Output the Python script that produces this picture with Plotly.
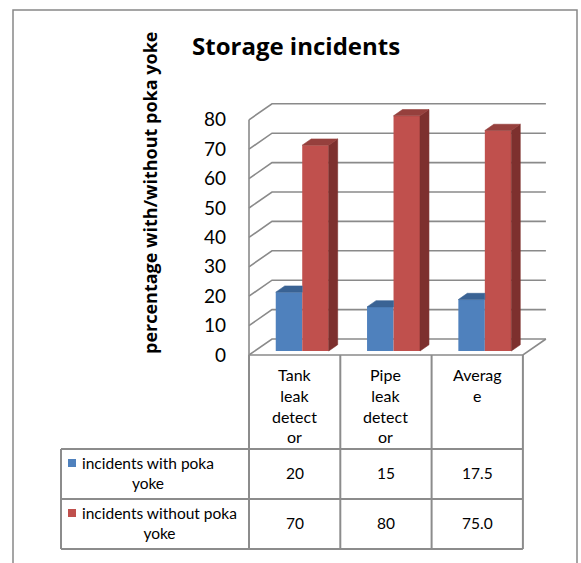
import plotly.graph_objects as go

# ---- data ----
categories = ["Tank leak detector", "Pipe leak detector", "Average"]
category_labels = ["Tank<br>leak<br>detect<br>or", "Pipe<br>leak<br>detect<br>or", "Averag<br>e"]
series_names = ["incidents with poka yoke", "incidents without poka yoke"]
with_poka_yoke = [20, 15, 17.5]
without_poka_yoke = [70, 80, 75.0]
value_decimals = [0, 0, 1]
y_ticks = [0, 10, 20, 30, 40, 50, 60, 70, 80]

# ---- styling ----
FONT = "Lato"
TITLE_FONT = "Open Sans"
BLUE, BLUE_TOP = "#4F81BD", "#3A6394"
RED, RED_TOP, RED_SIDE = "#C0504D", "#96403D", "#7D302E"
GRID = "#8a8a8a"
TABLE = "#8c8c8c"
TXT = "#000000"

# ---- pixel frame of the chart ----
W, H = 581, 563
L, R, T, B = 245, 555, 23, 363          # plot area (px)
X0, CW = 249, 91.3                      # front-left floor corner, category width (px)
Y0, PV = 355, 2.94                      # floor front line, px per unit
DXP, DYP = 23, 16                       # wall depth offset (px)

n = len(categories)
idx = list(range(n))
dxU, dyU = DXP / CW, DYP / PV           # depth offset in data units

x_range = [(L - X0) / CW - 0.5, (R - X0) / CW - 0.5]
y_range = [(Y0 - B) / PV, (Y0 - T) / PV]


def fx(px):
    return (px - L) / (R - L)


def fy(py):
    return (B - py) / (B - T)


# bar placement inside the depth of the box
F0, F1 = 0.25, 0.64
BW, SPLIT = 0.29, 0.02
shift_x, shift_y = F0 * dxU, F0 * dyU
ddx, ddy = (F1 - F0) * dxU, (F1 - F0) * dyU

fig = go.Figure()

fig.add_trace(go.Bar(
    x=idx, y=with_poka_yoke, base=shift_y, width=BW,
    offset=SPLIT - BW + shift_x, marker=dict(color=BLUE, line=dict(width=0)),
    name=series_names[0], hoverinfo="skip"))
fig.add_trace(go.Bar(
    x=idx, y=without_poka_yoke, base=shift_y, width=BW,
    offset=SPLIT + shift_x, marker=dict(color=RED, line=dict(width=0)),
    name=series_names[1], hoverinfo="skip"))

# top and side faces of the 3-D columns
bt_x, bt_y, rt_x, rt_y, rs_x, rs_y = [], [], [], [], [], []
for i in idx:
    xl = i + SPLIT - BW + shift_x
    xr = i + SPLIT + shift_x
    yt = shift_y + with_poka_yoke[i]
    # blue top: the part behind the red column is hidden
    bt_x += [xl, xr, xr, xl + ddx, xl, None]
    bt_y += [yt, yt, yt + ddy, yt + ddy, yt, None]

    xl, xr = xr, xr + BW
    yb, yt = shift_y, shift_y + without_poka_yoke[i]
    rt_x += [xl, xr, xr + ddx, xl + ddx, xl, None]
    rt_y += [yt, yt, yt + ddy, yt + ddy, yt, None]
    rs_x += [xr, xr + ddx, xr + ddx, xr, xr, None]
    rs_y += [yb, yb + ddy, yt + ddy, yt, yb, None]

for xs, ys, col in [(bt_x, bt_y, BLUE_TOP), (rs_x, rs_y, RED_SIDE), (rt_x, rt_y, RED_TOP)]:
    fig.add_trace(go.Scatter(
        x=xs, y=ys, mode="lines", fill="toself", fillcolor=col,
        line=dict(width=0.6, color=col), hoverinfo="skip", showlegend=False))

shapes = []
xl_wall, xr_wall = -0.5, n - 0.5
# walls: side-wall diagonals + back-wall gridlines
for v in y_ticks:
    shapes.append(dict(
        type="path", xref="x", yref="y", layer="below",
        path=f"M {xl_wall},{v} L {xl_wall + dxU},{v + dyU} L {xr_wall + dxU},{v + dyU}",
        line=dict(color=GRID, width=1.6)))
# floor front edge, floor right edge and vertical axis line
shapes.append(dict(type="path", xref="x", yref="y", layer="below",
                   path=f"M {xl_wall},{y_ticks[-1]} L {xl_wall},0 L {xr_wall},0 L {xr_wall + dxU},{dyU}",
                   line=dict(color=GRID, width=1.6)))

# ---- data table ----
TBL_L, HDR_B, ROW_H = 61, 449, 50
col_edges = [X0 + CW * k for k in range(n + 1)]


def hline(x1, x2, y):
    return dict(type="line", xref="paper", yref="paper", x0=fx(x1), x1=fx(x2),
                y0=fy(y), y1=fy(y), line=dict(color=TABLE, width=2))


def vline(x, y1, y2):
    return dict(type="line", xref="paper", yref="paper", x0=fx(x), x1=fx(x),
                y0=fy(y1), y1=fy(y2), line=dict(color=TABLE, width=2))


for xe in col_edges:
    shapes.append(vline(xe, Y0, HDR_B + 2 * ROW_H))
shapes.append(vline(TBL_L, HDR_B, HDR_B + 2 * ROW_H))
for r in range(3):
    shapes.append(hline(TBL_L, col_edges[-1], HDR_B + r * ROW_H))

# legend keys inside the table
for r, col in enumerate([BLUE, RED]):
    cy = HDR_B + r * ROW_H + 14
    shapes.append(dict(type="rect", xref="paper", yref="paper",
                       x0=fx(68), x1=fx(76), y0=fy(cy - 4), y1=fy(cy + 4),
                       fillcolor=col, line=dict(width=0)))

# outer frame
shapes.append(dict(type="path", xref="paper", yref="paper",
                   path=f"M {fx(13)},{fy(575)} L {fx(13)},{fy(10)} L {fx(577)},{fy(10)} L {fx(577)},{fy(575)}",
                   line=dict(color="#888888", width=1.5)))

annotations = []
# header cells
for k, lab in enumerate(category_labels):
    annotations.append(dict(
        xref="paper", yref="paper", x=fx((col_edges[k] + col_edges[k + 1]) / 2), y=fy(363),
        xanchor="center", yanchor="top", text=lab, showarrow=False, align="center",
        font=dict(family=FONT, size=16, color=TXT)))

# row labels and values
for r, (name, vals) in enumerate(zip(series_names, [with_poka_yoke, without_poka_yoke])):
    cy = HDR_B + r * ROW_H + ROW_H / 2 - 1
    head, tail = name.rsplit(" ", 1)
    annotations.append(dict(
        xref="paper", yref="paper", x=fx(80), y=fy(cy), xanchor="left", yanchor="middle",
        text=f"{head}<br>{tail}", showarrow=False, align="center",
        font=dict(family=FONT, size=15.5, color=TXT)))
    for k, v in enumerate(vals):
        annotations.append(dict(
            xref="paper", yref="paper", x=fx((col_edges[k] + col_edges[k + 1]) / 2), y=fy(cy),
            xanchor="center", yanchor="middle", text=f"{v:.{value_decimals[k]}f}",
            showarrow=False, font=dict(family=FONT, size=15.5, color=TXT)))

# chart title and value-axis title
annotations.append(dict(xref="paper", yref="paper", x=fx(296), y=fy(46),
                        xanchor="center", yanchor="middle", text="<b>Storage incidents</b>",
                        showarrow=False, font=dict(family=TITLE_FONT, size=24, color=TXT)))
annotations.append(dict(xref="paper", yref="paper", x=fx(150), y=fy(193),
                        xanchor="center", yanchor="middle", textangle=-90,
                        text="<b>percentage with/without poka yoke</b>",
                        showarrow=False, font=dict(family=TITLE_FONT, size=18, color=TXT)))

fig.update_layout(
    width=W, height=H,
    margin=dict(l=L, r=W - R, t=T, b=H - B, pad=0),
    paper_bgcolor="white", plot_bgcolor="rgba(0,0,0,0)",
    barmode="overlay", showlegend=False,
    xaxis=dict(range=x_range, visible=False, fixedrange=True),
    yaxis=dict(range=y_range, tickvals=y_ticks, ticktext=[str(v) for v in y_ticks],
               showgrid=False, zeroline=False, showline=False, ticks="",
               ticklabelstandoff=18, tickfont=dict(family=FONT, size=19, color=TXT),
               fixedrange=True),
    shapes=shapes, annotations=annotations,
)

fig.write_html("out.html")
